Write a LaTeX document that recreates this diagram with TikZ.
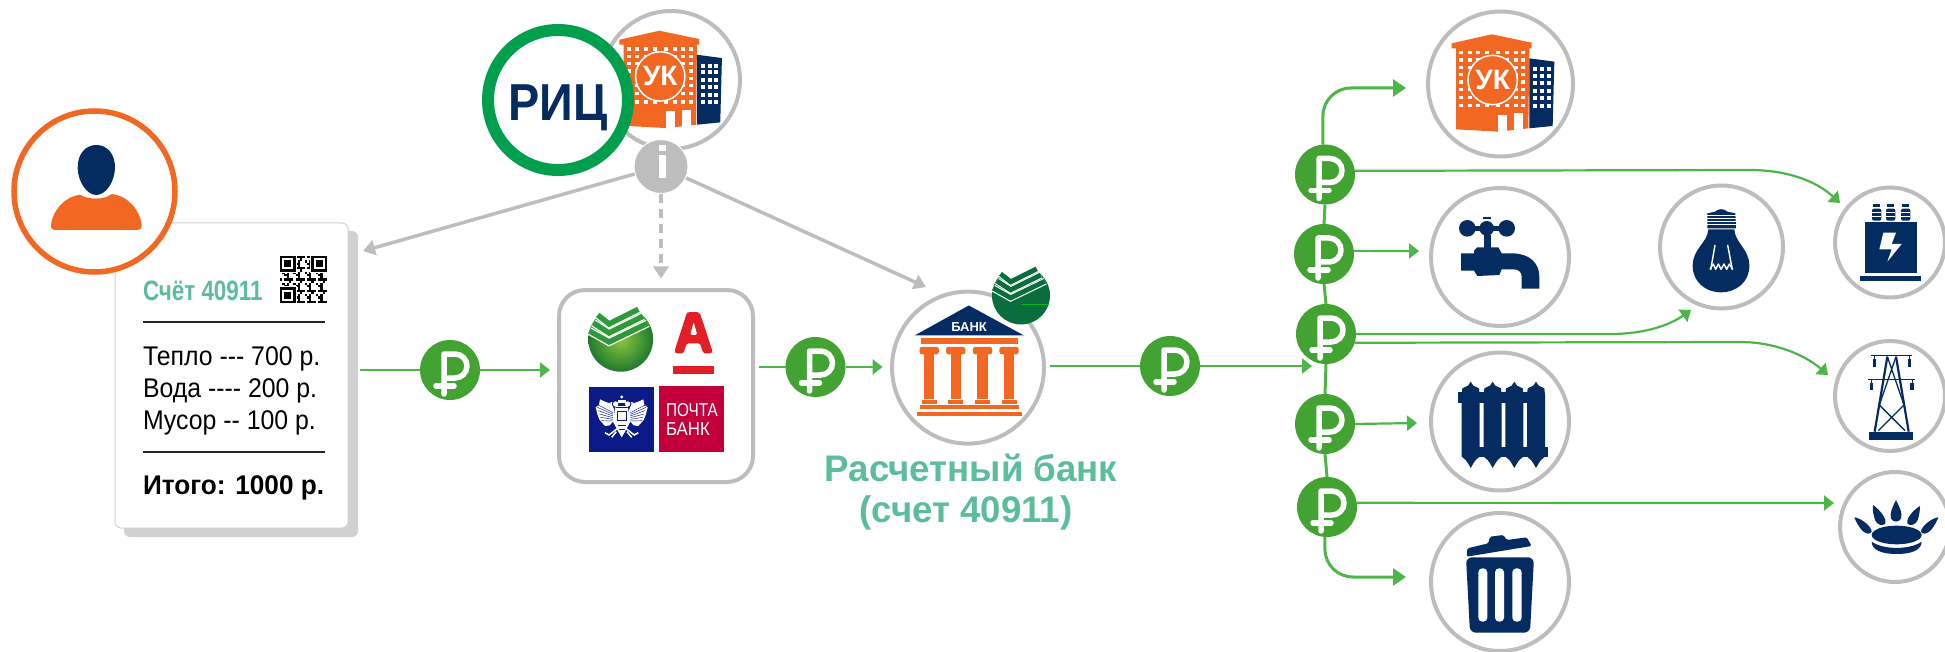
\documentclass[tikz,border=0pt]{standalone}
\usepackage{fontspec}
\setmainfont{Liberation Sans}
\usetikzlibrary{arrows.meta,shapes.geometric}
\definecolor{navy}{HTML}{052C60}
\definecolor{orng}{HTML}{F26722}
\definecolor{ggray}{HTML}{BDBDBD}
\definecolor{rubg}{HTML}{43A332}
\definecolor{lineg}{HTML}{4DB648}
\definecolor{teal}{HTML}{5BBD9B}
\definecolor{ricg}{HTML}{009F4D}
\definecolor{sbd}{HTML}{0A6E3C}
\definecolor{sbb}{HTML}{2F9A3C}
\definecolor{sbi}{HTML}{8DC63F}
\definecolor{sbo}{HTML}{1F7A2E}
\definecolor{alfa}{HTML}{E31E24}
\definecolor{postb}{HTML}{0A1A86}
\definecolor{pochta}{HTML}{C4003A}
\tikzset{
 x=1pt,y=-1pt,
 z1/.style={shift={(0,120)},scale=1/3},
 z3/.style={shift={(540,270)},scale=0.3444},
 z4/.style={shift={(1270,0)},scale=1/3},
 z5/.style={shift={(1270,320)},scale=1/3},
 z6/.style={shift={(1600,160)},scale=1/3},
 z7/.style={shift={(575,300)},scale=1/3},
 ring/.style={circle,draw=ggray,line width=4pt,fill=white,inner sep=0,outer sep=0},
 rub/.style={circle,fill=rubg,minimum size=60pt,inner sep=0,outer sep=0},
 txt/.style={inner sep=0,outer sep=0,anchor=base west,transform shape},
 garrow/.style={draw=lineg,line width=2.2pt,-{Triangle[length=10pt,width=15pt]}},
 gbig/.style={draw=lineg,line width=3pt,-{Triangle[length=13pt,width=17pt]}},
 gline/.style={draw=lineg,line width=3pt},
 grey/.style={draw=ggray,line width=3.5pt,-{Triangle[length=12pt,width=15pt]}},
}
\newcommand\rublemark[1]{\begin{scope}[shift={(#1)}]
 \draw[white,line width=5.5pt,line cap=round,line join=round] (-6,24)--(-6,-16)--(5,-16) arc[start angle=-90,end angle=90,radius=12] -- (-6,8);
 \draw[white,line width=5.5pt,line cap=round] (-14,16)--(4,16);
\end{scope}}
\newcommand\building[2]{\begin{scope}[shift={(#1,#2)},scale=1/3]
 \fill[orng] (545,130)--(665,103)--(785,128)--(785,145)--(778,145)--(775,385)--(685,395)--(558,388)--(558,145)--(545,145)--cycle;
 \foreach \cx in {573,599,625,651,685,711,737,760}\foreach \cy in {158,180,202,224,246,268,292,317}
  {\fill[white] (\cx-6,\cy-5) rectangle (\cx+6,\cy+5);}
 \fill[orng] (668,240) circle (75);
 \draw[white,line width=1.5pt] (668,240) circle (74);
 \node[inner sep=0,text=white,font=\bfseries\fontsize{28}{28}\selectfont] at (668,240) {УК};
 \fill[white] (685,345) rectangle (712,396);
 \fill[white] (733,340) rectangle (760,391);
 \fill[navy] (778,175)--(853,185)--(848,378)--(778,385)--cycle;
 \foreach \cx in {796,816,836}\foreach \cy in {208,227,250,272,295,317}
  {\fill[white] (\cx-6,\cy-6) rectangle (\cx+6,\cy+6);}
\end{scope}}
\newcommand\sberlogo[3]{\begin{scope}[shift={(#1)},scale=#2/3]
 \fill[white] (-112,-125)--(-112,-25)--(-69,-73)--(-37,-46)--(53,-90)--(112,-110)--(112,-125)--cycle;
 \foreach \d in {2,1,0}{
 \draw[white,line width=#2*8pt,line join=miter]
   (-94+12.5*\d,-25-24*\d) -- (-35,8-27*\d) -- (81-14*\d,-48-21*\d);
 \draw[#3,line width=#2*5.5pt,line join=miter]
   (-94+12.5*\d,-25-24*\d) -- (-35,8-27*\d) -- (81-14*\d,-48-21*\d);}
\end{scope}}
\begin{document}
\begin{tikzpicture}
\useasboundingbox (0,0) rectangle (1945,652);
% ---------- bill
\fill[rounded corners=6pt,fill=black!18] (124,231) rectangle (358,537);
\node[draw=black!18,line width=1pt,fill=white,rounded corners=6pt,minimum width=233pt,minimum height=305pt,inner sep=0] (bill) at (231.5,375.5) {};
\node[txt,xscale=.8,text=teal,font=\bfseries\fontsize{28}{28}\selectfont] (acct) at (143,300) {Счёт 40911};
\node[txt,xscale=.92,font=\fontsize{27}{27}\selectfont] (t1) at (143,365) {Тепло -{}-{}- 700 р.};
\node[txt,xscale=.92,font=\fontsize{27}{27}\selectfont] (t2) at (143,397) {Вода -{}-{}-{}- 200 р.};
\node[txt,xscale=.92,font=\fontsize{27}{27}\selectfont] (t3) at (143,429) {Мусор -{}- 100 р.};
\node[txt,xscale=.97,font=\bfseries\fontsize{27}{27}\selectfont] (t4) at (143,494) {Итого: 1000 р.};
\draw[black!85,line width=1.5pt] (143,322)--(325,322);
\draw[black!85,line width=1.5pt] (143,452)--(325,452);
% QR
\begin{scope}[shift={(280,256)},scale=2.24]
 \foreach \i in {0,...,20}\foreach \j in {0,...,20}{
  \pgfmathtruncatemacro\v{mod(\i*\i*7+\j*\j*13+\i*\j*3+\i,5)}
  \ifnum\v<2 \fill[black] (\i,\j) rectangle (\i+1.02,\j+1.02);\fi}
 \foreach \a/\b in {0/0,14/0,0/14}{
  \fill[white] (\a-.5,\b-.5) rectangle (\a+7.5,\b+7.5);
  \fill[black] (\a,\b) rectangle (\a+7,\b+7);
  \fill[white] (\a+1,\b+1) rectangle (\a+6,\b+6);
  \fill[black] (\a+2,\b+2) rectangle (\a+5,\b+5);}
\end{scope}
% ---------- person
\node[circle,draw=orng,line width=5.5pt,fill=white,minimum size=161pt,inner sep=0] (person) at (94.5,191.5) {};
\begin{scope}[z1]
 \fill[navy] (289,75) .. controls (320,75) and (346,100) .. (345,145) .. controls (343,190) and (315,225) .. (289,225) .. controls (263,225) and (235,190) .. (233,145) .. controls (232,100) and (258,75) .. (289,75)--cycle;
 \fill[orng] (240,224) .. controls (262,240) and (316,240) .. (335,222) .. controls (385,228) and (420,270) .. (425,315) .. controls (426,325) and (420,330) .. (410,330) -- (168,330) .. controls (158,330) and (152,325) .. (153,315) .. controls (158,270) and (195,230) .. (240,224)--cycle;
\end{scope}
% ---------- top group
\node[ring,minimum size=138pt] (uksmall) at (671,80) {};
\building{437.6}{-3.6}
\node[circle,draw=ricg,line width=12pt,fill=white,minimum size=140pt,inner sep=0] (ric) at (558,100) {};
\node[inner sep=0,anchor=base,text=navy,font=\bfseries\fontsize{52}{52}\selectfont,xscale=.9,transform shape] (rictext) at (558,121) {РИЦ};
\node[circle,fill=ggray,draw=white,line width=1pt,minimum size=54pt,inner sep=0] (info) at (661,166.5) {};
\fill[white] (659,145) rectangle (666,151);
\fill[white] (659,155) rectangle (666,178);
% ---------- banks
\node[draw=ggray,line width=4pt,fill=white,rounded corners=26pt,minimum width=194pt,minimum height=192pt,inner sep=0] (banks) at (656,386) {};
\coordinate (tipBill) at (363,251);
\coordinate (tipBanks) at (661,278.5);
\coordinate (tipBank) at (926,287);
\draw[grey] (info) -- (tipBill);
\draw[grey,dashed,dash pattern=on 9pt off 6pt] (info) -- (tipBanks);
\draw[grey] (info) -- (tipBank);
\shade[inner color=sbi,outer color=sbo] (620.7,339.3) circle (32.4);
\sberlogo{620.7,339.3}{1}{sbb}
\begin{scope}[z7]
 \fill[alfa,even odd rule,rounded corners=1.5pt] (298,155)--(303,160)--(325,160)--(335,130)--(375,130)--(385,160)--(408,160)--(413,155)--(375,40)--(368,36)--(340,36)--(335,40)--cycle (345,105)--(367,105)--(356,65)--cycle;
 \fill[alfa] (295,197) rectangle (418,222);
 \fill[postb] (42,260) rectangle (238,455);
 \fill[pochta] (253,257) rectangle (448,457);
 % eagle
 \foreach \s in {-1,1}{
  \begin{scope}[shift={(140,0)},xscale=\s]
   \fill[white] (22,330)--(30,312)--(50,305)--(65,298)--(68,315)--(78,322)--(72,345)--(66,360)--(50,378)--(36,376)--(22,360)--cycle;
   \foreach \k in {0,...,5}{\draw[postb,line width=.45pt] (26,338+\k*5)--(76-\k*3,312+\k*10);}
   \fill[white] (18,312) circle (8);
   \fill[white] (28,306)--(36,308)--(30,314)--cycle;
   \draw[white,line width=1.5pt] (12,385)--(38,405)--(50,398);
   \draw[white,line width=1.5pt] (16,395)--(30,412);
  \end{scope}}
 \fill[white] (140,291) circle (5);
 \fill[white] (128,300) rectangle (152,308);
 \fill[white] (122,318)--(158,318)--(166,365)--(150,395)--(140,412)--(130,395)--(114,365)--cycle;
 \draw[postb,line width=.5pt] (127,335) rectangle (153,362);
 \draw[postb,line width=.45pt] (128,375)--(152,375) (131,388)--(149,388) (122,322)--(158,322);
 \node[inner sep=0,anchor=base west,text=white,font=\fontsize{56}{56}\selectfont,xscale=.82,transform shape] (po1) at (273,350) {ПОЧТА};
 \node[inner sep=0,anchor=base west,text=white,font=\fontsize{56}{56}\selectfont,xscale=.9,transform shape] (po2) at (273,408) {БАНК};
\end{scope}
% ---------- bank
\node[ring,minimum size=152pt] (bank) at (968,367.6) {};
\begin{scope}[z3]
 \fill[navy] (1245,103)--(1405,190)--(1088,190)--cycle;
 \node[inner sep=0,text=white,font=\bfseries\fontsize{13}{13}\selectfont] at (1246,165) {БАНК};
 \fill[orng] (1105,198) rectangle (1388,215);
 \foreach \c in {1130,1207,1285,1362}{
  \fill[orng,rounded corners=2.5pt] (\c-28,223) rectangle (\c+28,245);
  \fill[orng] (\c-15,240) rectangle (\c+15,375);
  \fill[orng] (\c-22,377) rectangle (\c+22,388);
 }
 \fill[orng] (1102,393) rectangle (1392,405);
 \fill[orng] (1095,411) rectangle (1400,423);
\end{scope}
\fill[sbd] (1021,295.5) circle (29);
\sberlogo{1021,295.5}{.89}{sbd}
\draw[green!50!sbd,line width=.5pt] (1021,304)--(1049,304);
\node[inner sep=0,anchor=base,text=teal,font=\bfseries\fontsize{37}{37}\selectfont,xscale=.99,transform shape] (rb1) at (971,481) {Расчетный банк};
\node[inner sep=0,anchor=base,text=teal,font=\bfseries\fontsize{37}{37}\selectfont,xscale=.99,transform shape] (rb2) at (966,522) {(счет 40911)};
% ---------- rubles
\node[rub] (r0) at (450,370) {};
\node[rub] (ra) at (815.5,367) {};
\node[rub] (rb) at (1170,366) {};
\node[rub] (r1) at (1325,174.5) {};
\node[rub] (r2) at (1324,254) {};
\node[rub] (r3) at (1326,334) {};
\node[rub] (r4) at (1325,424) {};
\node[rub] (r5) at (1327,507) {};
\foreach \n in {r0,ra,rb,r1,r2,r3,r4,r5}{\rublemark{\n}}
% connectors left
\coordinate (billout) at (360,370);
\coordinate (tip0) at (550,370);
\coordinate (banksout) at (759,367);
\coordinate (tipa) at (882.6,367);
\coordinate (bankout) at (1050,366);
\coordinate (tipb) at (1312,366);
\draw[gline,line width=2.2pt] (billout) -- (r0);
\draw[garrow] (r0) -- (tip0);
\draw[gline,line width=2.2pt] (banksout) -- (ra);
\draw[garrow] (ra) -- (tipa);
\draw[gline,line width=2.2pt] (bankout) -- (rb);
\draw[garrow] (rb) -- (tipb);
% trunk
\draw[gline] (r1.south) -- (r2.north);
\draw[gline] (r2.south) -- (r3.north);
\draw[gline] (r3.south) -- (r4.north);
\draw[gline] (r4.south) -- (r5.north);
\coordinate (tipUK) at (1406,88);
\coordinate (tipTrash) at (1406,577);
\draw[gbig,rounded corners=28pt] (r1.94) |- (tipUK);
\draw[gbig,rounded corners=28pt] (r5.-94) |- (tipTrash);
% right circles
\node[ring,minimum size=145pt] (uk) at (1500.5,84) {};
\node[ring,minimum size=138pt] (tap) at (1500,257) {};
\node[ring,minimum size=138pt] (rad) at (1500,421.5) {};
\node[ring,minimum size=138pt] (bin) at (1500,582) {};
\node[ring,minimum size=123pt] (bulb) at (1721.5,247) {};
\node[ring,minimum size=110pt] (trans) at (1890,242.5) {};
\node[ring,minimum size=110pt] (tower) at (1890,396) {};
\node[ring,minimum size=110pt] (gas) at (1895,527) {};
\building{1270}{0}
% arrows right
\coordinate (tipTap) at (1419,251);
\coordinate (tipRad) at (1417,423);
\coordinate (tipGas) at (1834,503);
\coordinate (tipTrans) at (1840,203);
\coordinate (tipBulb) at (1691,310);
\coordinate (tipTower) at (1828,375);
\draw[garrow] (r2.6) -- (tipTap);
\draw[garrow] (r4.east) -- (tipRad);
\draw[garrow] (r5.8) -- (tipGas);
\draw[garrow] (r1.7) -- (1750,170) .. controls (1785,170) and (1815,180) .. (tipTrans);
\draw[garrow] (r3.east) -- (1610,334) .. controls (1645,334) and (1670,325) .. (tipBulb);
\draw[garrow] (r3.-17) -- (1740,342) .. controls (1775,342) and (1805,355) .. (tipTower);
% tap
\begin{scope}[z4]
 \fill[navy] (592,685) circle (25) (710,685) circle (25) (650,685) circle (22);
 \fill[navy] (590,678) rectangle (712,692);
 \fill[navy] (640,650) rectangle (662,657);
 \fill[navy] (642,705) rectangle (662,745);
 \fill[navy] (573,760)--(612,760)--(612,752)--(622,742)--(685,742)--(695,760)--(730,760) .. controls (780,762) and (808,790) .. (808,830) -- (808,866)--(755,866)--(755,830) .. controls (755,815) and (745,808) .. (730,808)--(695,808) -- (688,825) -- (622,828) -- (612,812)--(573,812) -- cycle;
\end{scope}
% radiator, bin
\begin{scope}[z5]
 \foreach \c in {602,668,733,798}{
  \fill[navy] (\c,185)--(\c+8,197)--(\c+25,205)--(\c+27,225)--(\c+27,410)--(\c+15,420)--(\c+8,430)--(\c,444)--(\c-8,430)--(\c-15,420)--(\c-27,410)--(\c-27,225)--(\c-25,205)--(\c-8,197)--cycle;}
 \fill[navy] (565,215) rectangle (580,250);
 \fill[navy] (625,215) rectangle (645,250);
 \fill[navy] (690,215) rectangle (710,250);
 \fill[navy] (755,215) rectangle (775,250);
 \fill[navy] (625,380) rectangle (645,410);
 \fill[navy] (690,380) rectangle (710,410);
 \fill[navy] (755,380) rectangle (775,410);
 \fill[navy] (820,380) rectangle (835,410);
 \fill[navy,rounded corners=1.5pt] (590,710)--(592,685)--(655,670)--(660,650)--(700,645)--(710,660)--(770,652)--(785,678)--cycle;
 \fill[navy,rounded corners=6pt] (588,712)--(792,712)--(780,938)--(600,938)--cycle;
 \foreach \a/\b in {625/652,675/702,727/755}{\fill[white,rounded corners=4pt] (\a,745) rectangle (\b,905);}
\end{scope}
% bulb, transformer, tower, gas
\begin{scope}[z6]
 \fill[navy] (325,208)--(403,208) .. controls (405,250) and (448,265) .. (448,318) .. controls (448,365) and (410,397) .. (363,397) .. controls (316,397) and (278,365) .. (278,318) .. controls (278,265) and (322,250) .. (325,208) -- cycle;
 \fill[navy] (322,160)--(345,155) .. controls (355,145) and (372,145) .. (382,155)--(406,160)--(408,205)--(322,205)--cycle;
 \foreach \k in {165,174,183,192}{\draw[white,line width=.8pt] (322,\k)--(408,\k);}
 \draw[white,line width=1.4pt,line join=round] (345,255)--(332,330)(383,255)--(397,330);
 \draw[white,line width=1.4pt,line join=round] (330,328)--(340,312)--(347,328)--(355,312)--(363,328)--(372,312)--(380,328)--(388,312)--(398,328);
 % transformer
 \fill[navy] (796,187) rectangle (952,338);
 \fill[navy] (780,347) rectangle (963,363);
 \foreach \c in {830,872,917}{
  \fill[navy] (\c-10,132) rectangle (\c+10,142);
  \fill[navy,rounded corners=2pt] (\c-14,146) rectangle (\c+14,182);
  \draw[white,line width=.6pt] (\c-14,157)--(\c+14,157) (\c-14,168)--(\c+14,168);}
 \fill[white] (850,218)--(888,218)--(875,252)--(905,252)--(862,305)--(875,268)--(838,268)--cycle;
 % tower
 \fill[navy] (807,815) rectangle (940,840);
 \draw[navy,line width=2.2pt] (824,815)--(862,590) (926,815)--(888,590);
 \draw[navy,line width=1.3pt] (862,590)--(912,735)--(835,812)  (888,590)--(838,735)--(915,812);
 \draw[navy,line width=1.6pt] (813,586)--(937,586) (805,658)--(945,658);
 \foreach \a/\b/\c in {823/598/622,928/598/622,814/668/690,936/668/690}{
  \fill[navy] (\a-5,\b) rectangle (\a+5,\c);
  \draw[navy,line width=1pt] (\a,\b-12)--(\a,\b);}
 % gas
 \fill[navy] (890,1125) ellipse (75 and 28);
 \fill[navy] (815,1145) .. controls (850,1170) and (930,1170) .. (965,1145) .. controls (965,1170) and (935,1182) .. (890,1182) .. controls (845,1182) and (815,1170) .. (815,1145)--cycle;
 \fill[navy] (888,1020) .. controls (900,1045) and (908,1060) .. (903,1075) .. controls (898,1088) and (878,1088) .. (873,1075) .. controls (868,1060) and (878,1040) .. (888,1020)--cycle;
 \fill[navy] (819,1035) .. controls (840,1050) and (860,1075) .. (856,1090) .. controls (850,1100) and (830,1095) .. (825,1080) .. controls (820,1065) and (817,1050) .. (819,1035)--cycle;
 \fill[navy] (960,1038) .. controls (940,1050) and (918,1075) .. (922,1090) .. controls (928,1100) and (948,1095) .. (953,1080) .. controls (958,1065) and (960,1050) .. (960,1038)--cycle;
 \fill[navy] (763,1072) .. controls (785,1075) and (815,1100) .. (815,1115) .. controls (812,1125) and (795,1122) .. (785,1110) .. controls (775,1098) and (768,1085) .. (763,1072)--cycle;
 \fill[navy] (1015,1072) .. controls (993,1075) and (963,1100) .. (963,1115) .. controls (966,1125) and (983,1122) .. (993,1110) .. controls (1003,1098) and (1010,1085) .. (1015,1072)--cycle;
\end{scope}
\end{tikzpicture}
\end{document}
